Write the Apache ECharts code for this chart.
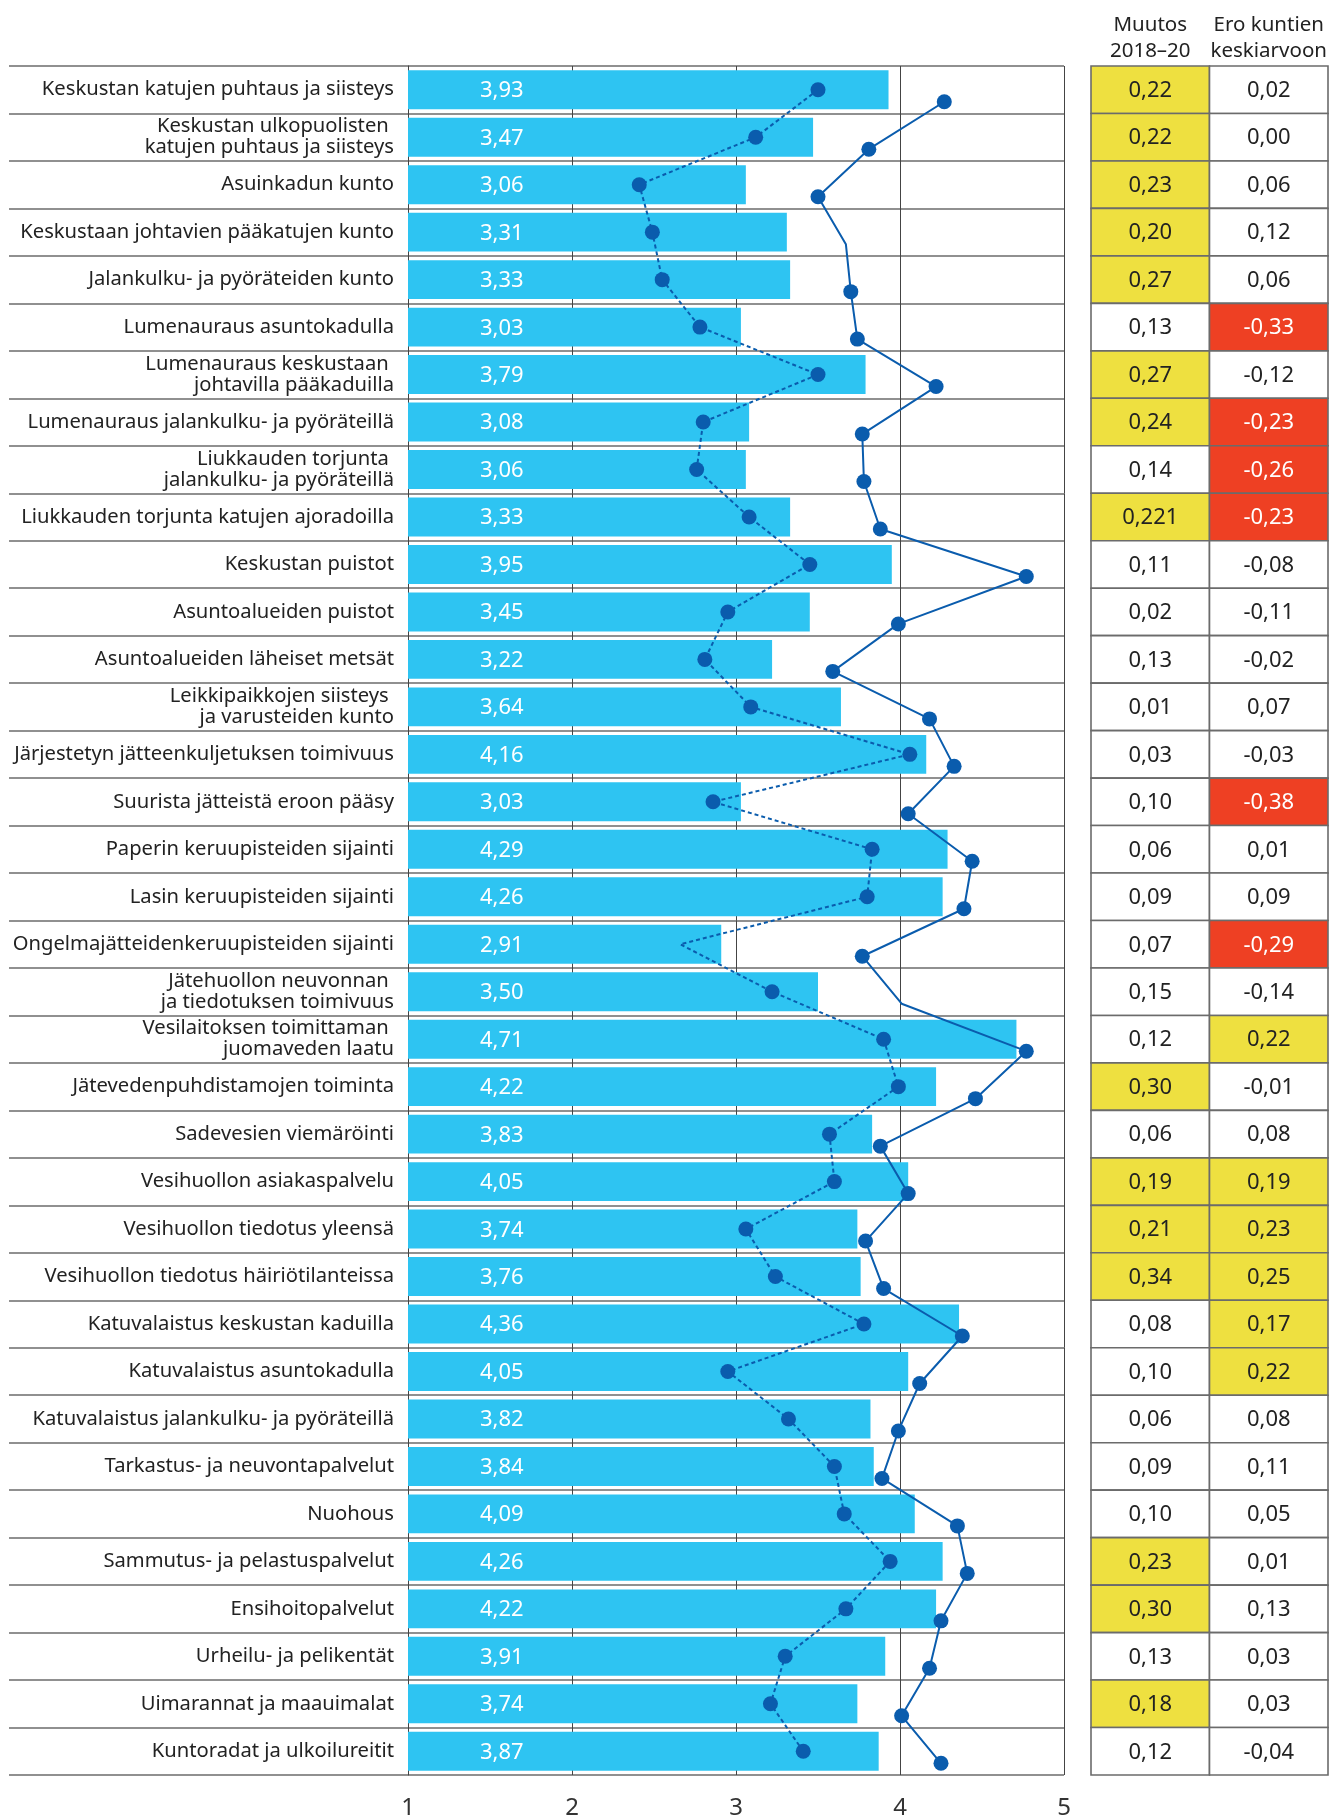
<!DOCTYPE html>
<html><head><meta charset="utf-8">
<script src="https://cdn.jsdelivr.net/npm/echarts@6/dist/echarts.min.js"></script>
<style>html,body{margin:0;padding:0;background:#fff}#c{width:1333px;height:1818px}</style>
</head><body><div id="c"></div>
<script>
const categories = [
 'Keskustan katujen puhtaus ja siisteys',
 'Keskustan ulkopuolisten \nkatujen puhtaus ja siisteys',
 'Asuinkadun kunto',
 'Keskustaan johtavien pääkatujen kunto',
 'Jalankulku- ja pyöräteiden kunto',
 'Lumenauraus asuntokadulla',
 'Lumenauraus keskustaan \njohtavilla pääkaduilla',
 'Lumenauraus jalankulku- ja pyöräteillä',
 'Liukkauden torjunta \njalankulku- ja pyöräteillä',
 'Liukkauden torjunta katujen ajoradoilla',
 'Keskustan puistot',
 'Asuntoalueiden puistot',
 'Asuntoalueiden läheiset metsät',
 'Leikkipaikkojen siisteys \nja varusteiden kunto',
 'Järjestetyn jätteenkuljetuksen toimivuus',
 'Suurista jätteistä eroon pääsy',
 'Paperin keruupisteiden sijainti',
 'Lasin keruupisteiden sijainti',
 'Ongelmajätteidenkeruupisteiden sijainti',
 'Jätehuollon neuvonnan \nja tiedotuksen toimivuus',
 'Vesilaitoksen toimittaman \njuomaveden laatu',
 'Jätevedenpuhdistamojen toiminta',
 'Sadevesien viemäröinti',
 'Vesihuollon asiakaspalvelu',
 'Vesihuollon tiedotus yleensä',
 'Vesihuollon tiedotus häiriötilanteissa',
 'Katuvalaistus keskustan kaduilla',
 'Katuvalaistus asuntokadulla',
 'Katuvalaistus jalankulku- ja pyöräteillä',
 'Tarkastus- ja neuvontapalvelut',
 'Nuohous',
 'Sammutus- ja pelastuspalvelut',
 'Ensihoitopalvelut',
 'Urheilu- ja pelikentät',
 'Uimarannat ja maauimalat',
 'Kuntoradat ja ulkoilureitit'
];
const values2020 = [3.93,3.47,3.06,3.31,3.33,3.03,3.79,3.08,3.06,3.33,3.95,3.45,3.22,3.64,4.16,3.03,4.29,4.26,2.91,3.50,4.71,4.22,3.83,4.05,3.74,3.76,4.36,4.05,3.82,3.84,4.09,4.26,4.22,3.91,3.74,3.87];
const lowValues = [3.50,3.12,2.41,2.49,2.55,2.78,3.50,2.80,2.76,3.08,3.45,2.95,2.81,3.09,4.06,2.86,3.83,3.80,2.66,3.22,3.90,3.99,3.57,3.60,3.06,3.24,3.78,2.95,3.32,3.60,3.66,3.94,3.67,3.30,3.21,3.41];
const highValues = [4.27,3.81,3.50,3.67,3.70,3.74,4.22,3.77,3.78,3.88,4.77,3.99,3.59,4.18,4.33,4.05,4.44,4.39,3.77,4.01,4.77,4.46,3.88,4.05,3.79,3.90,4.38,4.12,3.99,3.89,4.35,4.41,4.25,4.18,4.01,4.25];
const lowNoMarker = [18];
const highNoMarker = [3, 19];
const changeValues = [0.22,0.22,0.23,0.20,0.27,0.13,0.27,0.24,0.14,0.221,0.11,0.02,0.13,0.01,0.03,0.10,0.06,0.09,0.07,0.15,0.12,0.30,0.06,0.19,0.21,0.34,0.08,0.10,0.06,0.09,0.10,0.23,0.30,0.13,0.18,0.12];
const diffValues = [0.02,0.00,0.06,0.12,0.06,-0.33,-0.12,-0.23,-0.26,-0.23,-0.08,-0.11,-0.02,0.07,-0.03,-0.38,0.01,0.09,-0.29,-0.14,0.22,-0.01,0.08,0.19,0.23,0.25,0.17,0.22,0.08,0.11,0.05,0.01,0.13,0.03,0.03,-0.04];
const tableHeaders = ['Muutos\n2018–20', 'Ero kuntien\nkeskiarvoon'];
const xTicks = [1,2,3,4,5];

const FONT = '"Noto Sans", "Open Sans", sans-serif';
const BAR = '#2ec4f2', DOT = '#0a5cad', YEL = '#eee040', RED = '#ee4023', LINE = '#6b6b6b';
const N = categories.length;
const TOP = 66, H = 1709, PLOT_L = 408, PLOT_R = 1333 - 1064;

function fmt(v) {
  const s = String(v); const d = (s.split('.')[1] || '').length;
  return v.toFixed(Math.max(2, d)).replace('.', ',');
}
function cellColor(col, v) {
  if (col === 0) return v >= 0.18 ? YEL : '#fff';
  if (v >= 0.15) return YEL;
  if (v <= -0.2) return RED;
  return '#fff';
}
const tableData = [];
for (let i = 0; i < N; i++) { tableData.push([0, i, changeValues[i]]); tableData.push([1, i, diffValues[i]]); }

const catAxisBase = { type: 'category', data: categories, inverse: true, axisTick: { show: false }, axisLine: { show: false } };
const g = (o) => Object.assign({ outerBoundsMode: 'none', containLabel: false }, o);

const chart = echarts.init(document.getElementById('c'), null, { renderer: 'canvas' });
chart.setOption({
  animation: false,
  textStyle: { fontFamily: FONT },
  grid: [
    g({ left: 9, right: PLOT_R, top: TOP, height: H }),
    g({ left: PLOT_L, right: PLOT_R, top: TOP, height: H }),
    g({ left: PLOT_L, right: PLOT_R, top: TOP + 12, height: H }),
    g({ left: 1091, right: 5, top: TOP, height: H })
  ],
  xAxis: [
    { gridIndex: 0, type: 'value', min: 0, max: 1, show: false },
    { gridIndex: 1, type: 'value', min: xTicks[0], max: xTicks[xTicks.length - 1], interval: 1,
      axisLine: { show: false }, axisTick: { show: false },
      splitLine: { show: true, lineStyle: { color: '#444', width: 1 } },
      axisLabel: { fontSize: 24, color: '#333', margin: 21, fontFamily: FONT } },
    { gridIndex: 2, type: 'value', min: 1, max: 5, show: false },
    { gridIndex: 3, type: 'category', data: tableHeaders, position: 'top',
      axisLine: { show: false }, axisTick: { show: false },
      axisLabel: { fontSize: 20.5, lineHeight: 26, color: '#222', margin: 2, fontFamily: FONT, interval: 0 } }
  ],
  yAxis: [
    Object.assign({}, catAxisBase, { gridIndex: 0, axisLabel: { show: false },
      splitLine: { show: true, interval: 0, lineStyle: { color: LINE, width: 1.6 } } }),
    Object.assign({}, catAxisBase, { gridIndex: 1,
      axisLine: { show: true, lineStyle: { color: '#444', width: 1 } },
      axisLabel: { interval: 0, fontSize: 20.2, lineHeight: 21, color: '#222', margin: 14, align: 'right', fontFamily: FONT } }),
    Object.assign({}, catAxisBase, { gridIndex: 2, show: false }),
    Object.assign({}, catAxisBase, { gridIndex: 3, show: false })
  ],
  series: [
    { type: 'bar', name: '2020', xAxisIndex: 1, yAxisIndex: 1, data: values2020,
      barCategoryGap: '18%', itemStyle: { color: BAR }, z: 2,
      label: { show: true, position: [72, '53%'], align: 'left', verticalAlign: 'middle',
        color: '#fff', fontSize: 22, fontFamily: FONT, formatter: p => fmt(p.value) } },
    { type: 'line', name: 'Pienin', xAxisIndex: 1, yAxisIndex: 1, z: 4,
      data: lowValues.map((v, i) => lowNoMarker.includes(i) ? { value: v, symbol: 'none' } : v),
      symbol: 'circle', symbolSize: 15, showSymbol: true,
      itemStyle: { color: DOT }, lineStyle: { color: DOT, width: 2, type: [4, 3] } },
    { type: 'line', name: 'Suurin', xAxisIndex: 2, yAxisIndex: 2, z: 4,
      data: highValues.map((v, i) => highNoMarker.includes(i) ? { value: v, symbol: 'none' } : v),
      symbol: 'circle', symbolSize: 15, showSymbol: true,
      itemStyle: { color: DOT }, lineStyle: { color: DOT, width: 2 } },
    { type: 'custom', name: 'Taulukko', xAxisIndex: 3, yAxisIndex: 3, data: tableData,
      renderItem: function (params, api) {
        const d = tableData[params.dataIndex];
        const c = api.coord([d[0], d[1]]);
        const s = api.size([1, 1]);
        const fill = cellColor(d[0], d[2]);
        return { type: 'group', children: [
          { type: 'rect', shape: { x: c[0] - s[0] / 2, y: c[1] - s[1] / 2, width: s[0], height: s[1] },
            style: { fill: fill, stroke: LINE, lineWidth: 1.6 } },
          { type: 'text', x: c[0], y: c[1] + 1,
            style: { text: fmt(d[2]), fill: fill === RED ? '#fff' : '#222', font: '22px ' + FONT,
              align: 'center', verticalAlign: 'middle' } }
        ] };
      } }
  ]
});
</script></body></html>
